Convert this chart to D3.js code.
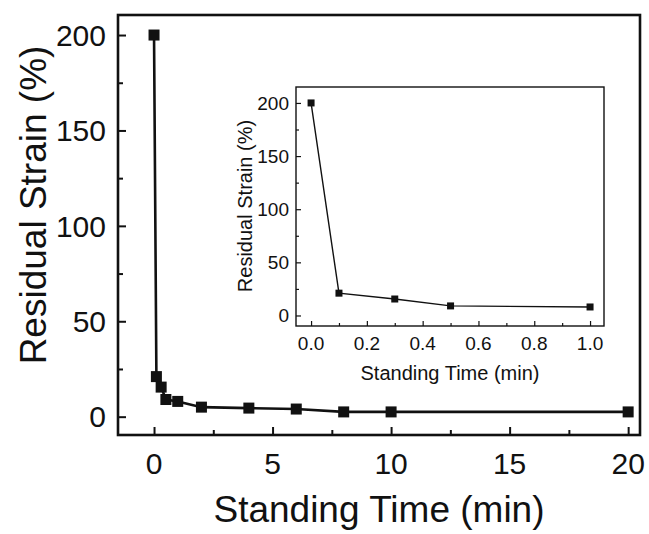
<!DOCTYPE html>
<html lang="en">
<head>
<meta charset="UTF-8">
<title>Residual Strain vs Standing Time</title>
<style>
  body { margin: 0; background: #fff; }
  text { font-family: "Liberation Sans", Arial, sans-serif; fill: #111; }
</style>
</head>
<body>
<svg id="graph"></svg>
<script src="https://d3js.org/d3.v7.min.js"></script>
<script>
// main plot data
const times = [0, 0.1, 0.3, 0.5, 1, 2, 4, 6, 8, 10, 20];
const strain = [200, 21, 15.5, 9, 8, 5, 4.5, 4, 2.5, 2.5, 2.5];
const xTicks = [0, 5, 10, 15, 20];
const yTicks = [0, 50, 100, 150, 200];

// inset data
const insetTimes = [0, 0.1, 0.3, 0.5, 1];
const insetStrain = [200, 21, 15.5, 9, 8];
const insetXTicks = [0, 0.2, 0.4, 0.6, 0.8, 1.0];
const insetYTicks = [0, 50, 100, 150, 200];

const width = 649, height = 534;
const svg = d3.select('#graph').attr('width', width).attr('height', height);

function drawPanel(o) {
  const g = svg.append('g');
  const x = d3.scaleLinear().domain(o.xDomain).range([o.left, o.right]);
  const y = d3.scaleLinear().domain(o.yDomain).range([o.bottom, o.top]);

  // x axis: ticks point inside, labels drawn below
  const xAx = g.append('g').attr('transform', `translate(0,${o.bottom})`);
  xAx.call(d3.axisTop(x).tickValues(o.xMinor).tickSize(o.minor).tickFormat(''));
  xAx.call(g2 => g2.append('g').call(d3.axisTop(x).tickValues(o.xTicks).tickSize(o.major).tickFormat('')));
  xAx.selectAll('path').remove();
  xAx.selectAll('line').attr('stroke', '#111').attr('stroke-width', o.sw);
  g.selectAll('.xl').data(o.xTicks).enter().append('text')
    .attr('x', d => x(d)).attr('y', o.bottom + o.xLabOff)
    .attr('text-anchor', 'middle').style('font-size', o.tickFont + 'px')
    .text(o.xFmt);

  const yAx = g.append('g').attr('transform', `translate(${o.left},0)`);
  yAx.call(d3.axisRight(y).tickValues(o.yMinor).tickSize(o.minor).tickFormat(''));
  yAx.call(g2 => g2.append('g').call(d3.axisRight(y).tickValues(o.yTicks).tickSize(o.major).tickFormat('')));
  yAx.selectAll('path').remove();
  yAx.selectAll('line').attr('stroke', '#111').attr('stroke-width', o.sw);
  g.selectAll('.yl').data(o.yTicks).enter().append('text')
    .attr('x', o.left - o.yLabOff).attr('y', d => y(d))
    .attr('dy', '0.36em').attr('text-anchor', 'end').style('font-size', o.tickFont + 'px')
    .text(d => d);

  g.append('rect')
    .attr('x', o.left).attr('y', o.top)
    .attr('width', o.right - o.left).attr('height', o.bottom - o.top)
    .attr('fill', 'none').attr('stroke', '#111').attr('stroke-width', o.frameW);

  const pts = o.xs.map((d, i) => [d, o.ys[i]]);
  g.append('path').datum(pts)
    .attr('fill', 'none').attr('stroke', '#111').attr('stroke-width', o.lineW)
    .attr('d', d3.line().x(d => x(d[0])).y(d => y(d[1])));
  g.selectAll('.m').data(pts).enter().append('rect')
    .attr('x', d => x(d[0]) - o.mk / 2).attr('y', d => y(d[1]) - o.mk / 2)
    .attr('width', o.mk).attr('height', o.mk).attr('fill', '#111');

  g.append('text')
    .attr('x', (o.left + o.right) / 2).attr('y', o.xTitleY)
    .attr('text-anchor', 'middle').style('font-size', o.titleFont + 'px')
    .text('Standing Time (min)');
  g.append('text')
    .attr('transform', `translate(${o.yTitleX},${o.yTitleMid}) rotate(-90)`)
    .attr('text-anchor', 'middle').style('font-size', o.titleFont + 'px')
    .text('Residual Strain (%)');
}

drawPanel({
  left: 118, right: 640, top: 15, bottom: 435,
  xDomain: [-1.52, 20.5], yDomain: [-9.6, 210.5],
  xs: times, ys: strain,
  xTicks: xTicks, yTicks: yTicks,
  xMinor: [2.5, 7.5, 12.5, 17.5], yMinor: [25, 75, 125, 175],
  major: 8, minor: 5, sw: 2, frameW: 2.6, lineW: 2.6, mk: 11,
  tickFont: 30, titleFont: 37, xLabOff: 39, yLabOff: 12,
  xFmt: d => d, xTitleY: 522, yTitleX: 46, yTitleMid: 205
});

drawPanel({
  left: 296, right: 604, top: 87, bottom: 326,
  xDomain: [-0.054, 1.05], yDomain: [-9.9, 215],
  xs: insetTimes, ys: insetStrain,
  xTicks: insetXTicks, yTicks: insetYTicks,
  xMinor: [0.1, 0.3, 0.5, 0.7, 0.9], yMinor: [25, 75, 125, 175],
  major: 5, minor: 3, sw: 1.2, frameW: 1.4, lineW: 1.4, mk: 7,
  tickFont: 19, titleFont: 20, xLabOff: 24, yLabOff: 7,
  xFmt: d => d.toFixed(1), xTitleY: 380, yTitleX: 252, yTitleMid: 206
});
</script>
</body>
</html>
